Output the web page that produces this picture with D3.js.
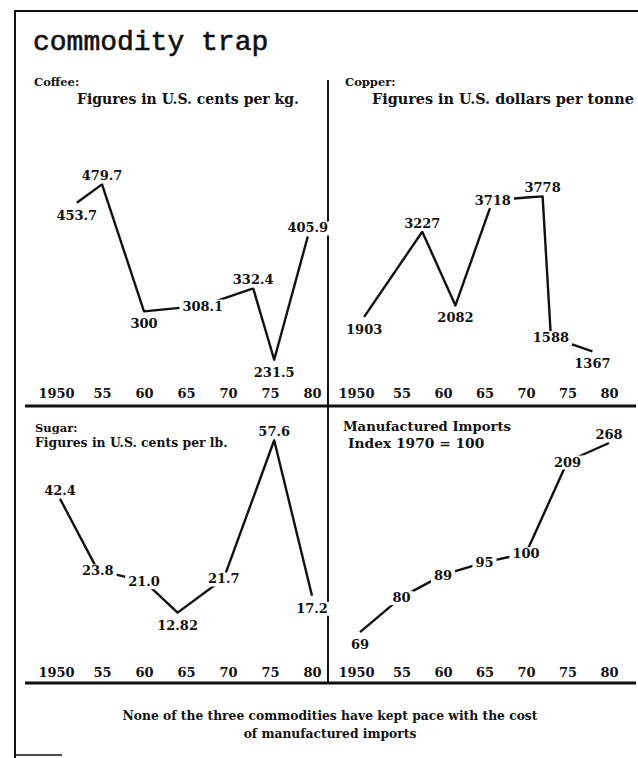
<!DOCTYPE html>
<html>
<head>
<meta charset="utf-8">
<script src="https://cdn.jsdelivr.net/npm/d3@7"></script>
<style>
  body { margin: 0; background: #fff; }
  svg { display: block; }
</style>
</head>
<body>
<script>
// DATA
const tickYears = [1950, 1955, 1960, 1965, 1970, 1975, 1980];
const tickLabels = ["1950", "55", "60", "65", "70", "75", "80"];

const coffeeYears = [1952, 1955, 1960, 1967, 1973, 1975.5, 1979.5];
const coffeeValues = ["453.7", "479.7", "300", "308.1", "332.4", "231.5", "405.9"];

const copperYears = [1950.5, 1957.5, 1961.5, 1966, 1972, 1973, 1978];
const copperValues = ["1903", "3227", "2082", "3718", "3778", "1588", "1367"];

const sugarYears = [1950, 1954.5, 1960, 1964, 1969.5, 1975.5, 1980];
const sugarValues = ["42.4", "23.8", "21.0", "12.82", "21.7", "57.6", "17.2"];

const importYears = [1950, 1955, 1960, 1965, 1970, 1975, 1980];
const importValues = ["69", "80", "89", "95", "100", "209", "268"];

const W = 638, H = 758;
const serif = "'DejaVu Serif', serif";
const ink = "#111";

const svg = d3.select("body").append("svg")
    .attr("width", W)
    .attr("height", H);

// FRAME
svg.append("line").attr("x1", 15).attr("y1", 10).attr("x2", 15).attr("y2", 758)
    .attr("stroke", ink).attr("stroke-width", 2);
svg.append("line").attr("x1", 14).attr("y1", 11).attr("x2", 638).attr("y2", 11)
    .attr("stroke", ink).attr("stroke-width", 2);
svg.append("line").attr("x1", 15).attr("y1", 755).attr("x2", 62).attr("y2", 755)
    .attr("stroke", ink).attr("stroke-width", 1.5);

// dividers
svg.append("line").attr("x1", 328).attr("y1", 80).attr("x2", 328).attr("y2", 684)
    .attr("stroke", ink).attr("stroke-width", 2);
svg.append("line").attr("x1", 25).attr("y1", 406).attr("x2", 636).attr("y2", 406)
    .attr("stroke", ink).attr("stroke-width", 3);
svg.append("line").attr("x1", 25).attr("y1", 683).attr("x2", 636).attr("y2", 683)
    .attr("stroke", ink).attr("stroke-width", 3);

// TITLE
svg.append("text")
    .attr("x", 33).attr("y", 50)
    .attr("font-family", "'Liberation Mono', monospace")
    .attr("font-size", 28)
    .attr("fill", ink)
    .attr("stroke", ink)
    .attr("stroke-width", 0.6)
    .text("commodity trap");

// PANEL TEXTS
function addText(x, y, str, size) {
    svg.append("text")
        .attr("x", x).attr("y", y)
        .attr("font-family", serif)
        .attr("font-weight", "bold")
        .attr("font-size", size)
        .attr("fill", ink)
        .text(str);
}
addText(34, 86, "Coffee:", 11.5);
addText(77, 104, "Figures in U.S. cents per kg.", 14);
addText(345, 86, "Copper:", 11.5);
addText(372, 104, "Figures in U.S. dollars per tonne", 14.4);
addText(35, 432, "Sugar:", 11.5);
addText(35, 447, "Figures in U.S. cents per lb.", 12.4);
addText(343, 431, "Manufactured Imports", 13.2);
addText(348, 448, "Index 1970 = 100", 13.8);

// FOOTER
svg.append("text")
    .attr("x", 330).attr("y", 720)
    .attr("text-anchor", "middle")
    .attr("font-family", serif).attr("font-weight", "bold")
    .attr("font-size", 12.3).attr("fill", ink)
    .text("None of the three commodities have kept pace with the cost");
svg.append("text")
    .attr("x", 330).attr("y", 738)
    .attr("text-anchor", "middle")
    .attr("font-family", serif).attr("font-weight", "bold")
    .attr("font-size", 12.3).attr("fill", ink)
    .text("of manufactured imports");

// SCALES (the original is hand drawn, so each panel gets its own)
const xLeft = d3.scaleLinear().domain([1950, 1980]).range([60, 312]);
const xRight = d3.scaleLinear().domain([1950, 1980]).range([360, 609]);

const yCoffee = d3.scaleLinear().domain([200, 500]).range([382, 170]);
const yCopper = d3.scaleLinear().domain([1000, 4000]).range([375, 182]);
const ySugar = d3.scaleLinear().domain([0, 60]).range([662, 431]);
const yImports = d3.scalePow().exponent(-1).domain([50, 300]).range([729, 436]);

// AXES (year labels only)
function drawAxis(x, y) {
    const g = svg.append("g")
        .attr("transform", `translate(0,${y})`)
        .call(d3.axisBottom(x)
            .tickValues(tickYears)
            .tickFormat((d, i) => tickLabels[i])
            .tickSize(0));
    g.select(".domain").remove();
    g.selectAll("text")
        .attr("y", 0).attr("dy", 0)
        .attr("dx", (d, i) => i === 0 ? -4 : 0)
        .attr("font-family", serif)
        .attr("font-weight", "bold")
        .attr("font-size", 13)
        .attr("fill", ink);
}
drawAxis(xLeft, 398);
drawAxis(xRight, 398);
drawAxis(xLeft, 677);
drawAxis(xRight, 677);

// where a value label sits relative to its point
function placement(vals, i) {
    const v = vals[i], prev = vals[i - 1], next = vals[i + 1];
    if (prev === undefined) return next > v ? "below" : "above";
    if (next === undefined) return prev > v ? "below" : "above";
    if (v > prev && v > next) return "above";
    if (v < prev && v < next) return "below";
    return "center";
}

function drawSeries(years, labels, x, y) {
    const vals = labels.map(Number);
    const pts = years.map((yr, i) => ({ year: yr, value: vals[i], label: labels[i], pos: placement(vals, i) }));

    const line = d3.line()
        .x(d => x(d.year))
        .y(d => y(d.value));

    svg.append("path")
        .datum(pts)
        .attr("d", line)
        .attr("fill", "none")
        .attr("stroke", ink)
        .attr("stroke-width", 2.4)
        .attr("stroke-linejoin", "round");

    const labelsG = svg.append("g");
    pts.forEach(d => {
        const t = labelsG.append("text")
            .attr("x", x(d.year))
            .attr("y", y(d.value) + (d.pos === "above" ? -4 : d.pos === "below" ? 17 : 5))
            .attr("text-anchor", "middle")
            .attr("font-family", serif)
            .attr("font-weight", "bold")
            .attr("font-size", 13)
            .attr("fill", ink)
            .text(d.label);
        // white knock-out box so the line stops at the label
        const b = t.node().getBBox();
        labelsG.insert("rect", () => t.node())
            .attr("x", b.x - 3).attr("y", b.y + 1)
            .attr("width", b.width + 6).attr("height", b.height - 1)
            .attr("fill", "#fff");
    });
}

drawSeries(coffeeYears, coffeeValues, xLeft, yCoffee);
drawSeries(copperYears, copperValues, xRight, yCopper);
drawSeries(sugarYears, sugarValues, xLeft, ySugar);
drawSeries(importYears, importValues, xRight, yImports);
</script>
</body>
</html>
